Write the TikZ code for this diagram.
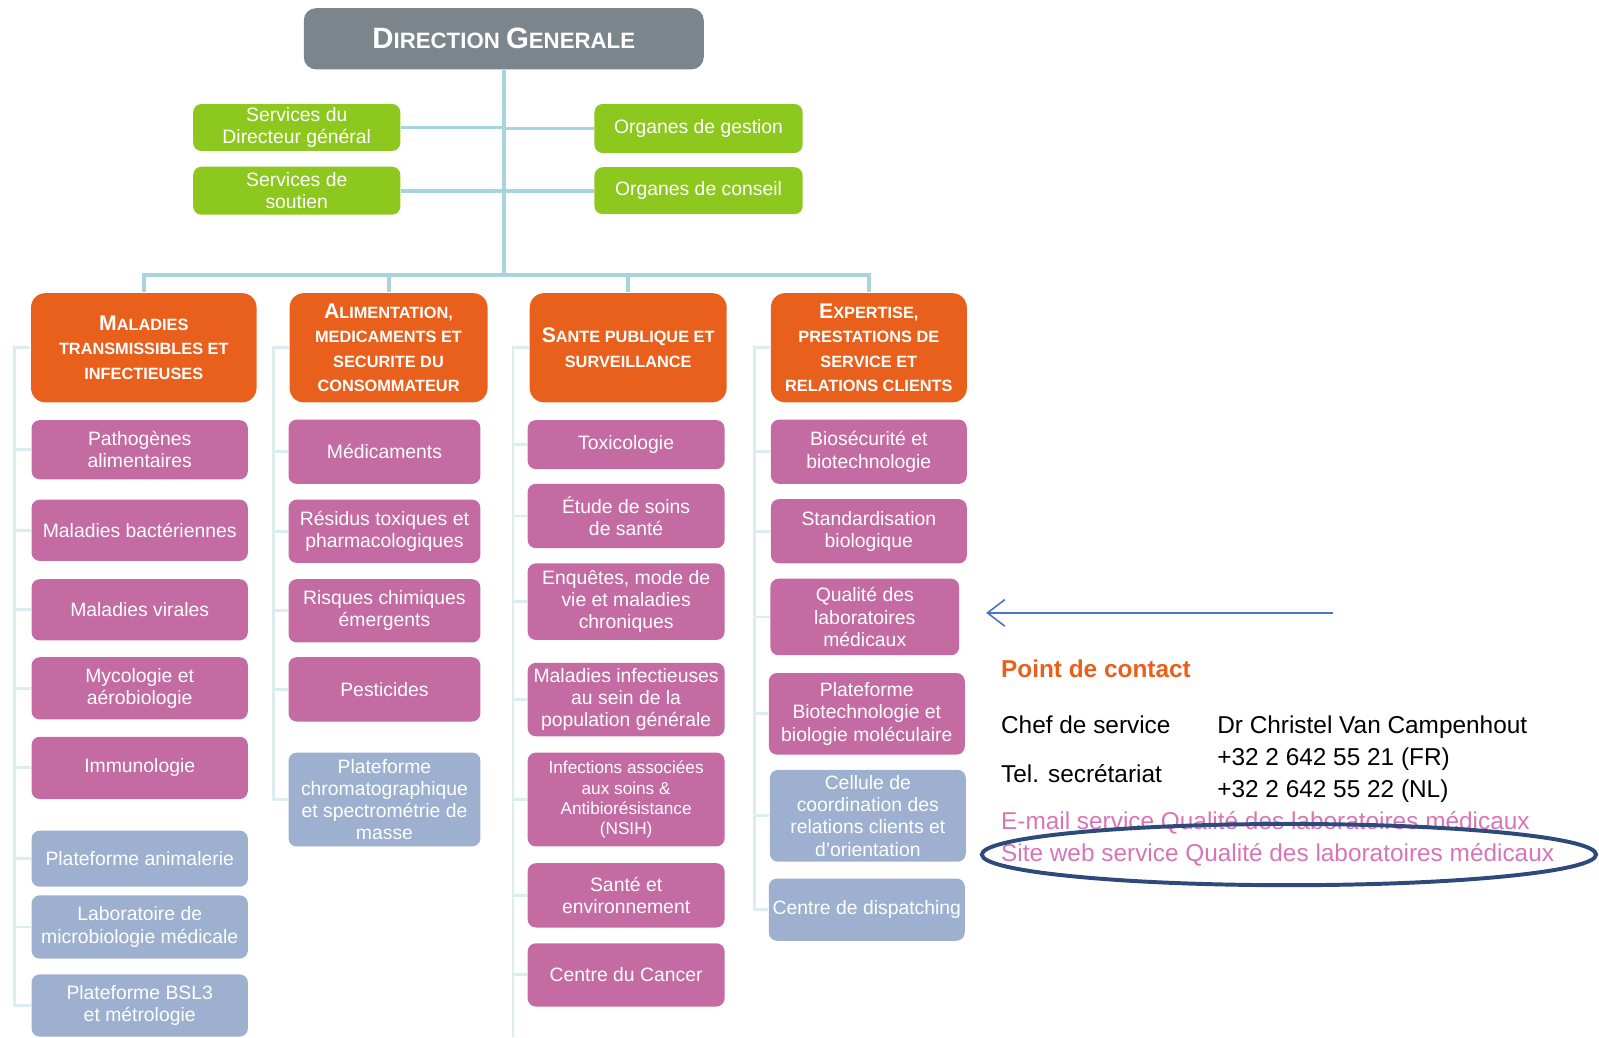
\documentclass[tikz,border=0pt]{standalone}
\usepackage{fontspec}
\setmainfont{Liberation Sans}
\usepackage{tikz}
\usetikzlibrary{arrows.meta,shapes.geometric}
\definecolor{dirgrey}{HTML}{7C858C}
\definecolor{lime}{HTML}{8DC81E}
\definecolor{deporange}{HTML}{E8601C}
\definecolor{servpink}{HTML}{C56BA3}
\definecolor{platblue}{HTML}{9DB0D0}
\definecolor{spineblue}{HTML}{A8D4DD}
\definecolor{treeblue}{HTML}{DCEDF0}
\definecolor{arrowblue}{HTML}{4A76C0}
\definecolor{ovalnavy}{HTML}{2C4A7A}
\definecolor{linkpink}{HTML}{D874B6}
\newcommand{\hc}[1]{{\fontsize{5.9}{6.8}\selectfont #1}}
\newcommand{\dc}[1]{{\fontsize{8.2}{9}\selectfont #1}}

\begin{document}
\begin{tikzpicture}[x=0.01cm, y=-0.01cm,
    box/.style={rounded corners=0.08cm, inner xsep=0pt, inner ysep=0.5pt, align=center, text=white, font=\fontsize{5.4}{6.2}\selectfont},
    dirbox/.style={box, fill=dirgrey, rounded corners=0.12cm, minimum width=3.92cm, minimum height=0.6cm, font=\bfseries\fontsize{6.2}{7}\selectfont},
    greenbox/.style={box, fill=lime, minimum width=2.03cm, minimum height=0.46cm},
    headbox/.style={box, fill=deporange, rounded corners=0.14cm, minimum height=1.07cm, font=\bfseries\fontsize{4.55}{6.8}\selectfont},
    pinkbox/.style={box, fill=servpink},
    platbox/.style={box, fill=platblue},
    colA/.style={minimum width=2.12cm},
    colB/.style={minimum width=1.88cm},
    colC/.style={minimum width=1.93cm},
    colD/.style={minimum width=1.92cm},
    spine/.style={draw=spineblue, line width=1.1pt},
    tree/.style={draw=treeblue, line width=0.8pt},
    contact/.style={anchor=base west, inner sep=0pt, font=\fontsize{6.8}{8}\selectfont}]
      \useasboundingbox (0,0) rectangle (1568,1017);

      \node (dg) at (494,38) [dirbox] {\dc{D}IRECTION \dc{G}ENERALE};
      \node (sdg) at (291,125) [greenbox] {Services du\\Directeur général};
      \node (ssout) at (291,187) [greenbox, minimum height=0.47cm] {Services de\\soutien};
      \node (ogest) at (685,126) [greenbox, minimum width=2.04cm, minimum height=0.48cm] {Organes de gestion};
      \node (oconseil) at (685,187) [greenbox, minimum width=2.04cm] {Organes de conseil};

      \node (mti) at (141,341) [headbox, minimum width=2.21cm] {\hc{M}ALADIES\\TRANSMISSIBLES ET\\INFECTIEUSES};
      \node (amsc) at (381,341) [headbox, minimum width=1.94cm] {\hc{A}LIMENTATION,\\MEDICAMENTS ET\\SECURITE DU\\CONSOMMATEUR};
      \node (sps) at (616,341) [headbox, minimum width=1.93cm] {\hc{S}ANTE PUBLIQUE ET\\SURVEILLANCE};
      \node (epsr) at (852,341) [headbox, minimum width=1.92cm] {\hc{E}XPERTISE,\\PRESTATIONS DE\\SERVICE ET\\RELATIONS CLIENTS};

      \node (path) at (137,441) [pinkbox, colA, minimum height=0.58cm] {Pathogènes\\alimentaires};
      \node (bact) at (137,520) [pinkbox, colA, minimum height=0.6cm] {Maladies bactériennes};
      \node (vir) at (137,598) [pinkbox, colA, minimum height=0.6cm] {Maladies virales};
      \node (myco) at (137,675) [pinkbox, colA, minimum height=0.61cm] {Mycologie et\\aérobiologie};
      \node (immuno) at (137,753) [pinkbox, colA, minimum height=0.61cm] {Immunologie};
      \node (anim) at (137,842) [platbox, colA, minimum height=0.55cm] {Plateforme animalerie};
      \node (micro) at (137,909) [platbox, colA, minimum height=0.62cm] {Laboratoire de\\microbiologie médicale};
      \node (bsl) at (137,986) [platbox, colA, minimum height=0.61cm] {Plateforme BSL3\\et métrologie};

      \node (medic) at (377,443) [pinkbox, colB, minimum height=0.63cm] {Médicaments};
      \node (resid) at (377,521) [pinkbox, colB, minimum height=0.62cm] {Résidus toxiques et\\pharmacologiques};
      \node (risq) at (377,599) [pinkbox, colB, minimum height=0.62cm] {Risques chimiques\\émergents};
      \node (pest) at (377,676) [pinkbox, colB, minimum height=0.63cm] {Pesticides};
      \node (chrom) at (377,784) [platbox, colB, minimum height=0.92cm] {Plateforme\\chromatographique\\et spectrométrie de\\masse};

      \node (toxi) at (614,436) [pinkbox, colC, minimum height=0.48cm] {Toxicologie};
      \node (etude) at (614,506) [pinkbox, colC, minimum height=0.63cm] {Étude de soins\\de santé};
      \node (enq) at (614,590) [pinkbox, colC, minimum height=0.75cm] {Enquêtes, mode de\\vie et maladies\\chroniques};
      \node (malinf) at (614,686) [pinkbox, colC, minimum height=0.72cm] {Maladies infectieuses\\au sein de la\\population générale};
      \node (nsih) at (614,784) [pinkbox, colC, minimum height=0.92cm, font=\fontsize{4.8}{5.6}\selectfont] {Infections associées\\aux soins \&\\Antibiorésistance\\(NSIH)};
      \node (sante) at (614,878) [pinkbox, colC, minimum height=0.63cm] {Santé et\\environnement};
      \node (cancer) at (614,956) [pinkbox, colC, minimum height=0.62cm] {Centre du Cancer};

      \node (biosec) at (852,443) [pinkbox, colD, minimum height=0.63cm] {Biosécurité et\\biotechnologie};
      \node (stand) at (852,521) [pinkbox, colD, minimum height=0.63cm] {Standardisation\\biologique};
      \node (qual) at (848,605) [pinkbox, minimum width=1.85cm, minimum height=0.75cm] {Qualité des\\laboratoires\\médicaux};
      \node (biotech) at (850,700) [pinkbox, colD, minimum height=0.8cm] {Plateforme\\Biotechnologie et\\biologie moléculaire};
      \node (cell) at (851,800) [platbox, colD, minimum height=0.9cm] {Cellule de\\coordination des\\relations clients et\\d'orientation};
      \node (disp) at (850,892) [platbox, colD, minimum height=0.61cm] {Centre de dispatching};

      \coordinate (bar) at (494,270);
      \draw[spine] (dg) to (bar);
      \draw[spine] (sdg) to (sdg -| bar);
      \draw[spine] (ssout) to (ssout -| bar);
      \draw[spine] (ogest) to (ogest -| bar);
      \draw[spine] (oconseil) to (oconseil -| bar);
      \draw[spine] (mti.north) to (mti.north |- bar) to (epsr.north |- bar) to (epsr.north);
      \draw[spine] (amsc.north) to (amsc.north |- bar);
      \draw[spine] (sps.north) to (sps.north |- bar);

      \coordinate (tA) at (14,0);
      \coordinate (tB) at (268,0);
      \coordinate (tC) at (503,0);
      \coordinate (tD) at (740,0);
      \coordinate (tCend) at (503,1017);
      \draw[tree] (mti.west) to (mti.west -| tA) to (bsl.west -| tA);
      \foreach \n in {path,bact,vir,myco,immuno,anim,micro,bsl}
        \draw[tree] (\n.west -| tA) to (\n.west);
      \draw[tree] (amsc.west) to (amsc.west -| tB) to (chrom.west -| tB);
      \foreach \n in {medic,resid,risq,pest,chrom}
        \draw[tree] (\n.west -| tB) to (\n.west);
      \draw[tree] (sps.west) to (sps.west -| tC) to (tCend);
      \foreach \n in {toxi,etude,enq,malinf,nsih,sante,cancer}
        \draw[tree] (\n.west -| tC) to (\n.west);
      \draw[tree] (epsr.west) to (epsr.west -| tD) to (disp.west -| tD);
      \foreach \n in {biosec,stand,qual,biotech,cell,disp}
        \draw[tree] (\n.west -| tD) to (\n.west);

      % pointer to the service
      \coordinate (arrtail) at (1307,601);
      \coordinate (arrtip) at (967,601);
      \draw[arrowblue, line width=0.45pt, -{Straight Barb[length=0.17cm,width=0.26cm]}] (arrtail) to (arrtip);

      \node (pdc) at (981,664) [contact, text=deporange, font=\bfseries\fontsize{6.8}{8}\selectfont] {Point de contact};
      \node (chef) at (981,719) [contact] {Chef de service};
      \node (chefname) at (1193,719) [contact] {Dr Christel Van Campenhout};
      \node (tel) at (981,767) [contact] {Tel. secrétariat};
      \node (telfr) at (1193,751) [contact] {+32 2 642 55 21 (FR)};
      \node (telnl) at (1193,782) [contact] {+32 2 642 55 22 (NL)};
      \node (mail) at (981,813) [contact, text=linkpink] {E-mail service Qualité des laboratoires médicaux};
      \node (web) at (981,845) [contact, text=linkpink] {Site web service Qualité des laboratoires médicaux};
      \node (oval) at (1264,838) [draw=ovalnavy, line width=1.1pt, ellipse, minimum width=6.02cm, minimum height=0.6cm, inner sep=0pt] {};
    \end{tikzpicture}
\end{document}
